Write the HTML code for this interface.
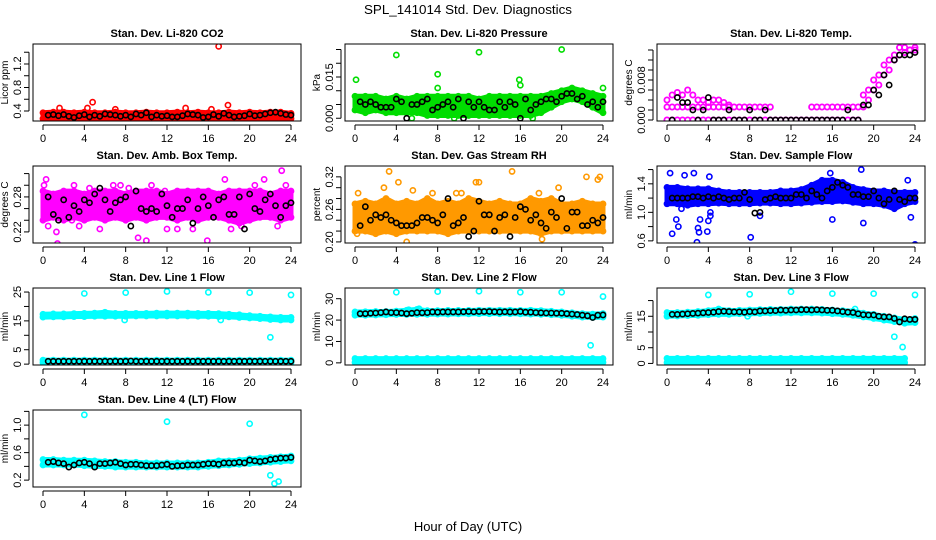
<!DOCTYPE html>
<html><head><meta charset="utf-8">
<style>
html,body{margin:0;padding:0;background:#fff;}
svg{display:block;font-family:"Liberation Sans",sans-serif;}
</style></head>
<body>
<svg id="chart" width="936" height="540" viewBox="0 0 936 540" xmlns="http://www.w3.org/2000/svg">
<rect width="936" height="540" fill="#fff"/>
<text x="468" y="14" text-anchor="middle" font-size="13" textLength="208" lengthAdjust="spacingAndGlyphs">SPL_141014  Std. Dev. Diagnostics</text>
<text x="468" y="531" text-anchor="middle" font-size="13">Hour of Day (UTC)</text>
<g id="panels"></g>
</svg>
<script>
const HR=[0,1,2,3,4,5,6,7,8,9,10,11,12,13,14,15,16,17,18,19,20,21,22,23,24];
const HH=[0,0.5,1,1.5,2,2.5,3,3.5,4,4.5,5,5.5,6,6.5,7,7.5,8,8.5,9,9.5,10,10.5,11,11.5,12,12.5,13,13.5,14,14.5,15,15.5,16,16.5,17,17.5,18,18.5,19,19.5,20,20.5,21,21.5,22,22.5,23,23.5,24];
const xTicks=[0,4,8,12,16,20,24];

// Panel 1 CO2
const co2Lo=[0.27,0.27,0.28,0.27,0.27,0.27,0.28,0.27,0.26,0.27,0.28,0.27,0.27,0.27,0.28,0.27,0.27,0.27,0.28,0.27,0.27,0.27,0.28,0.28,0.27];
const co2Hi=[0.37,0.38,0.38,0.37,0.38,0.37,0.37,0.38,0.37,0.37,0.38,0.37,0.37,0.38,0.37,0.38,0.37,0.37,0.38,0.37,0.38,0.37,0.38,0.38,0.36];
const co2Blk=[null,0.33,0.34,0.32,0.34,0.31,0.29,0.32,0.34,0.30,0.33,0.31,0.35,0.34,0.33,0.31,0.33,0.30,0.35,0.33,0.37,0.30,0.33,0.31,0.32,0.30,0.30,0.32,0.35,0.34,0.33,0.29,0.30,0.34,0.31,0.36,0.33,0.30,0.31,0.32,0.35,0.32,0.33,0.35,0.37,0.38,0.36,0.34,0.33];
const co2OutX=[17,4.8,17.9,1.6,4.3,7,13.8,16.3,8];
const co2OutY=[1.5,0.55,0.5,0.45,0.45,0.43,0.45,0.43,0.25];

// Panel 2 Pressure
const prLo=[0.003,0.002,0.003,0.002,0.002,0.002,0.002,0.001,0.001,0.001,0.001,0.001,0.001,0.001,0.001,0.001,0.001,0.001,0.002,0.004,0.006,0.007,0.006,0.004,0.002];
const prHi=[0.008,0.008,0.008,0.007,0.008,0.007,0.008,0.008,0.008,0.008,0.008,0.008,0.007,0.008,0.008,0.008,0.008,0.008,0.008,0.009,0.010,0.011,0.010,0.009,0.008];
const prBlk=[null,0.006,0.005,0.006,0.005,0.004,0.004,0.004,0.007,0.006,0.000,0.005,0.005,0.006,0.007,0.003,0.004,0.005,0.006,0.004,0.007,0.000,0.006,0.004,0.006,0.004,0.003,0.003,0.006,0.004,0.006,0.005,0.000,0.007,0.003,0.005,0.006,0.007,0.007,0.006,0.008,0.009,0.009,0.007,0.008,0.005,0.006,0.004,0.006];
const prOutX=[0.1,4,8,8,12,15.9,16,20,24,17.2,5.5,9.6];
const prOutY=[0.014,0.023,0.016,0.011,0.024,0.014,0.012,0.025,0.011,0.000,0.000,0.000];

// Panel 3 Temp (rows of points)
const tpRow0=[0,0,0,0,0,0,0,0,0,0,0,0,0,0,0,0,0,0,0,0,0,0,0,0,0,0,0,0,0,0,0,0,0,0,0,0,0,0,null,null,null,null,null,null,null,null,null,null,null];
const tpRow1=[0.0026,0.0026,0.0026,0.0026,0.0026,0.0026,0.0026,0.0026,0.0026,0.0026,0.0026,0.0026,0.0026,0.0026,0.0026,0.0026,0.0026,0.0026,0.0026,0.0026,0.0026,null,null,null,null,null,null,null,0.0026,0.0026,0.0026,0.0026,0.0026,0.0026,0.0026,0.0026,0.0026,0.0026,0.0026,0.004,0.006,0.007,0.009,0.010,0.012,0.013,0.0135,0.014,0.014];
const tpRow2=[0.004,0.005,0.0055,0.005,0.006,0.005,0.004,0.004,0.0035,0.004,0.004,0.0035,0.003,null,null,null,null,null,null,null,null,null,null,null,null,null,null,null,null,null,null,null,null,null,null,null,null,null,0.005,0.006,0.008,0.009,0.011,0.012,0.013,0.0145,0.0145,0.014,0.0145];
const tpBlk=[null,0,0.0045,0.0035,0.0035,0.002,0,0.002,0.0045,0,0,0,0.002,0,0,0,0.002,0,0,0.002,0,0,0,0,0,0,0,0,0,0,0,0,0,0,0,0.002,0,0,0.003,0.003,0.006,0.005,0.009,0.007,0.012,0.013,0.013,0.013,0.0135];

// Panel 4 Amb Box Temp
const abLo=[0.24,0.245,0.24,0.245,0.24,0.245,0.24,0.245,0.24,0.245,0.24,0.245,0.245,0.24,0.245,0.24,0.245,0.245,0.24,0.235,0.24,0.245,0.245,0.24,0.245];
const abHi=[0.29,0.285,0.29,0.29,0.285,0.29,0.29,0.29,0.285,0.29,0.29,0.29,0.285,0.29,0.29,0.29,0.29,0.285,0.29,0.29,0.29,0.29,0.285,0.29,0.29];
const abBlk=[null,0.28,0.25,0.24,0.275,0.245,0.265,0.255,0.275,0.27,0.285,0.295,0.275,0.255,0.27,0.275,0.28,0.23,0.29,0.26,0.255,0.26,0.255,0.285,0.265,0.245,0.26,0.26,0.275,0.235,0.26,0.28,0.265,0.245,0.275,0.28,0.25,0.25,0.28,0.225,0.285,0.26,0.255,0.275,0.285,0.265,0.245,0.265,0.27];
const abOutX=[0.1,0.3,0.5,1.3,1.4,3,4.5,5.5,7.5,9.2,10,10.5,13,14.5,15.9,17.6,18.2,21.4,23.1,23.5,22.7,0.2,2.8,6.8,12,11.8,19.2,20.5,8.3,3.5];
const abOutY=[0.30,0.31,0.23,0.22,0.20,0.30,0.295,0.225,0.30,0.21,0.205,0.30,0.225,0.225,0.205,0.31,0.225,0.31,0.325,0.30,0.23,0.245,0.24,0.30,0.225,0.29,0.23,0.30,0.295,0.23];

// Panel 5 Gas Stream RH
const rhLo=[0.22,0.22,0.215,0.22,0.215,0.22,0.22,0.22,0.22,0.215,0.22,0.22,0.22,0.22,0.22,0.22,0.22,0.22,0.215,0.22,0.22,0.22,0.22,0.22,0.22];
const rhHi=[0.27,0.275,0.27,0.28,0.27,0.275,0.27,0.28,0.27,0.275,0.27,0.28,0.275,0.27,0.275,0.27,0.27,0.28,0.275,0.28,0.27,0.27,0.275,0.27,0.27];
const rhBlk=[null,0.23,0.265,0.24,0.25,0.245,0.25,0.24,0.235,0.23,0.23,0.23,0.235,0.245,0.245,0.24,0.235,0.25,0.28,0.23,0.235,0.245,0.21,0.22,0.275,0.25,0.25,0.22,0.245,0.25,0.21,0.245,0.265,0.26,0.24,0.25,0.235,0.225,0.255,0.245,0.28,0.225,0.255,0.255,0.23,0.23,0.24,0.235,0.245];
const rhOutX=[0.3,3.3,4.2,5,15.2,22.4,23.5,23.7,2.8,7.5,11.7,12,17.8,19.7,0.2,18.1,9.8,10.3,5.6];
const rhOutY=[0.29,0.33,0.31,0.20,0.33,0.32,0.315,0.32,0.30,0.29,0.31,0.31,0.29,0.30,0.215,0.205,0.29,0.29,0.295];

// Panel 6 Sample Flow
const sfLo=[1.12,1.12,1.1,1.12,1.12,1.13,1.12,1.12,1.12,1.13,1.13,1.12,1.12,1.13,1.14,1.15,1.15,1.16,1.14,1.12,1.12,1.1,1.05,1.12,1.15];
const sfHi=[1.35,1.35,1.33,1.33,1.33,1.3,1.28,1.28,1.28,1.28,1.28,1.3,1.3,1.32,1.38,1.45,1.45,1.42,1.35,1.32,1.3,1.3,1.28,1.28,1.28];
const sfBlk=[null,1.2,1.2,1.2,1.2,1.22,1.22,1.2,1.22,1.2,1.22,1.2,1.18,1.2,1.2,1.28,1.18,0.99,1.0,1.18,1.2,1.22,1.2,1.2,1.2,1.25,1.25,1.2,1.3,1.25,1.2,1.3,1.35,1.42,1.38,1.35,1.25,1.25,1.22,1.22,1.3,1.2,1.12,1.18,1.3,1.18,1.15,1.2,1.2];
const sfOutX=[0.3,0.5,0.9,1.4,1.7,2.6,2.9,3,3.1,3.9,4,4.1,4.2,8.1,9,15.8,16,18.8,19,23.3,23.6,24,4.2,3.2,1.1];
const sfOutY=[1.55,0.7,0.9,1.05,1.52,1.55,0.58,0.78,0.72,0.73,0.88,1.5,1.0,0.65,0.95,1.55,0.9,1.6,0.85,1.45,0.93,0.55,0.95,0.9,0.8];

// Panel 7 Line 1 Flow
const l1Lo=[16.3,16.4,16.4,16.5,16.5,16.6,16.6,16.6,16.6,16.7,16.7,16.7,16.7,16.7,16.7,16.6,16.6,16.5,16.4,16.2,16,15.8,15.5,15.3,15.3];
const l1Hi=[17.3,17.4,17.4,17.5,17.6,17.7,18,17.6,17.6,17.6,17.6,17.7,17.7,17.7,17.7,17.6,17.6,17.5,17.3,17.1,16.8,16.6,16.4,16.2,16.2];
const l1BaseLo=[0.5,0.5,0.5,0.5,0.5,0.5,0.5,0.5,0.5,0.5,0.5,0.5,0.5,0.5,0.5,0.5,0.5,0.5,0.5,0.5,0.5,0.5,0.5,0.5,0.5];
const l1BaseHi=[1.4,1.4,1.4,1.4,1.4,1.4,1.4,1.4,1.4,1.4,1.4,1.4,1.4,1.4,1.4,1.4,1.4,1.4,1.4,1.4,1.4,1.4,1.4,1.4,1.4];
const l1Blk=[null,1,1,1,1,1,1,1,1,1,1,1,1,1,1,1,1,1.1,1,1,1,1,1,1,1,1,1,1,1,1,1,1,1,1,1,1,1,1,1,1,1,1,1,1,1,1,1,1,1];
const l1OutX=[4,8,12,16,20,24,22,7.9,17.2];
const l1OutY=[24.5,24.8,25.2,24.9,24.8,24,9.3,15.3,15.3];

// Panel 8 Line 2 Flow
const l2Lo=[22.3,22.3,22.4,22.5,22.6,22.6,22.7,22.7,22.8,22.8,22.9,22.9,23,23,23,23,22.9,22.8,22.7,22.5,22.2,21.8,21.4,21.2,21.4];
const l2Hi=[23.8,23.9,24,24,24.2,24.6,25,24.4,24.4,24.5,24.5,24.5,24.6,24.6,24.6,24.6,24.5,24.6,24.4,24.1,23.8,23.4,23,22.8,23];
const l2BaseLo=[0.2,0.2,0.2,0.2,0.2,0.2,0.2,0.2,0.2,0.2,0.2,0.2,0.2,0.2,0.2,0.2,0.2,0.2,0.2,0.2,0.2,0.2,0.2,0.2,0.2];
const l2BaseHi=[2,2,2,2,2,2,2,2,2,2,2,2,2,2,2,2,2,2,2,2,2,2,2,2,2];
const l2Blk=[null,23,23,23.2,23.3,23.5,23.8,23.5,23.5,23.3,23,23.2,23.5,23.4,23.5,23.8,23.7,23.8,23.8,23.8,23.8,23.9,24,23.9,24,24,24,23.9,23.8,23.9,23.8,23.8,24,23.7,23.7,23.5,23.4,23.3,23.3,23.2,23.2,23,22.8,22.6,22.3,22.0,21.2,22.3,22.4];
const l2OutX=[4,8,12,16,20,24,22.8,6.2,5.2];
const l2OutY=[33,33.3,33.5,33,33,31,8.2,25.3,24.8];

// Panel 9 Line 3 Flow
const l3Lo=[15,15.1,15.2,15.3,15.5,15.6,15.6,15.8,15.8,15.9,16,16,16.1,16.1,16.1,16,15.8,15.6,15.3,14.8,14.3,13.8,13.3,12.8,13];
const l3Hi=[16.2,16.2,16.3,16.5,16.8,17.3,16.8,16.9,17,17.1,17.2,17.2,17.3,17.3,17.3,17.2,17,16.8,16.6,16,15.6,15,14.5,14,14.3];
const l3BaseLo=[0.3,0.3,0.3,0.3,0.3,0.3,0.3,0.3,0.3,0.3,0.3,0.3,0.3,0.3,0.3,0.3,0.3,0.3,0.3,0.3,0.3,0.3,0.3,0.3,null];
const l3BaseHi=[1.6,1.6,1.6,1.6,1.6,1.6,1.6,1.6,1.6,1.6,1.6,1.6,1.6,1.6,1.6,1.6,1.6,1.6,1.6,1.6,1.6,1.6,1.6,1.6,null];
const l3Blk=[null,15.6,15.6,15.7,15.8,15.9,16,16.1,16.2,16.3,16.5,16.6,16.5,16.4,16.4,16.3,16.5,16.4,16.7,16.7,16.8,16.8,17,16.9,17,17,17.1,17.1,17,17.1,17,16.9,16.9,16.7,16.5,16.3,16.2,15.8,15.5,15.4,15.4,15,14.8,14.8,14.3,13.2,14.2,14,14];
const l3OutX=[4,8,12,16,20,24,22,22.8,18.2,7.8];
const l3OutY=[21.8,22,22.8,22.2,22.2,21.8,8.5,5.2,17.3,15];

// Panel 10 Line 4 Flow
const l4Lo=[0.42,0.42,0.42,0.42,0.41,0.40,0.40,0.39,0.39,0.39,0.39,0.39,0.39,0.39,0.39,0.39,0.40,0.41,0.42,0.43,0.44,0.45,0.46,0.47,0.48];
const l4Hi=[0.50,0.50,0.49,0.49,0.49,0.48,0.47,0.47,0.46,0.46,0.45,0.45,0.45,0.45,0.45,0.45,0.46,0.48,0.48,0.49,0.51,0.52,0.53,0.54,0.55];
const l4Blk=[null,0.46,0.47,0.45,0.44,0.39,0.42,0.45,0.46,0.44,0.39,0.44,0.44,0.45,0.46,0.44,0.42,0.43,0.43,0.42,0.41,0.41,0.41,0.42,0.43,0.40,0.41,0.41,0.42,0.42,0.42,0.43,0.44,0.44,0.43,0.45,0.45,0.45,0.46,0.45,0.49,0.48,0.47,0.48,0.50,0.51,0.52,0.52,0.53];
const l4OutX=[4,12,20,22,22.4,22.8];
const l4OutY=[1.15,1.05,1.02,0.27,0.15,0.18];

const NS='http://www.w3.org/2000/svg';
function mk(tag,attrs,parent){const e=document.createElementNS(NS,tag);for(const k in attrs)e.setAttribute(k,attrs[k]);parent.appendChild(e);return e;}

const panels=[
 {name:'co2',title:'Stan. Dev. Li-820 CO2',ylab:'Licor ppm',col:0,row:0,ymin:0.23,ymax:1.54,ticks:[0.4,0.6,0.8,1.0,1.2,1.4],labels:[0.4,0.8,1.2],fmt:1,color:'#ff0000',bands:[[co2Lo,co2Hi]],rows:[],blk:co2Blk,ox:co2OutX,oy:co2OutY},
 {name:'pressure',title:'Stan. Dev. Li-820 Pressure',ylab:'kPa',col:1,row:0,ymin:-0.001,ymax:0.027,ticks:[0,0.005,0.010,0.015,0.020,0.025],labels:[0,0.015],fmt:3,color:'#00dd00',bands:[[prLo,prHi]],rows:[],blk:prBlk,ox:prOutX,oy:prOutY},
 {name:'li820-temp',title:'Stan. Dev. Li-820 Temp.',ylab:'degrees C',col:2,row:0,ymin:-0.0002,ymax:0.0152,ticks:[0,0.002,0.004,0.006,0.008,0.010,0.012,0.014],labels:[0,0.008],fmt:3,color:'#ff00ff',bands:[],rows:[tpRow0,tpRow1,tpRow2],blk:tpBlk,ox:[],oy:[]},
 {name:'amb-box-temp',title:'Stan. Dev. Amb. Box Temp.',ylab:'degrees C',col:0,row:1,ymin:0.201,ymax:0.333,ticks:[0.22,0.24,0.26,0.28,0.30,0.32],labels:[0.22,0.28],fmt:2,color:'#ff00ff',bands:[[abLo,abHi]],rows:[],blk:abBlk,ox:abOutX,oy:abOutY},
 {name:'gas-stream-rh',title:'Stan. Dev. Gas Stream RH',ylab:'percent',col:1,row:1,ymin:0.198,ymax:0.340,ticks:[0.20,0.22,0.24,0.26,0.28,0.30,0.32],labels:[0.20,0.26,0.32],fmt:2,color:'#ff9900',bands:[[rhLo,rhHi]],rows:[],blk:rhBlk,ox:rhOutX,oy:rhOutY},
 {name:'sample-flow',title:'Stan. Dev. Sample Flow',ylab:'ml/min',col:2,row:1,ymin:0.57,ymax:1.65,ticks:[0.6,0.8,1.0,1.2,1.4,1.6],labels:[0.6,1.0,1.4],fmt:1,color:'#0000ff',bands:[[sfLo,sfHi]],rows:[],blk:sfBlk,ox:sfOutX,oy:sfOutY},
 {name:'line1-flow',title:'Stan. Dev. Line 1 Flow',ylab:'ml/min',col:0,row:2,ymin:-0.3,ymax:26.4,ticks:[0,5,10,15,20,25],labels:[0,5,15,25],fmt:0,color:'#00ffff',bands:[[l1Lo,l1Hi],[l1BaseLo,l1BaseHi]],rows:[],blk:l1Blk,ox:l1OutX,oy:l1OutY},
 {name:'line2-flow',title:'Stan. Dev. Line 2 Flow',ylab:'ml/min',col:1,row:2,ymin:-1,ymax:35,ticks:[0,10,20,30],labels:[0,10,20,30],fmt:0,color:'#00ffff',bands:[[l2Lo,l2Hi],[l2BaseLo,l2BaseHi]],rows:[],blk:l2Blk,ox:l2OutX,oy:l2OutY},
 {name:'line3-flow',title:'Stan. Dev. Line 3 Flow',ylab:'ml/min',col:2,row:2,ymin:-0.5,ymax:24,ticks:[0,5,10,15,20],labels:[0,5,15],fmt:0,color:'#00ffff',bands:[[l3Lo,l3Hi],[l3BaseLo,l3BaseHi]],rows:[],blk:l3Blk,ox:l3OutX,oy:l3OutY},
 {name:'line4-flow',title:'Stan. Dev. Line 4 (LT) Flow',ylab:'ml/min',col:0,row:3,ymin:0.10,ymax:1.22,ticks:[0.2,0.4,0.6,0.8,1.0,1.2],labels:[0.2,0.6,1.0],fmt:1,color:'#00ffff',bands:[[l4Lo,l4Hi]],rows:[],blk:l4Blk,ox:l4OutX,oy:l4OutY}
];

const root=document.getElementById('panels');
panels.forEach(p=>{
 const x0=43+312*p.col, top=44+122*p.row, bot=121+122*p.row;
 const bl=x0-10, br=x0+258;
 const xs=v=>x0+v/24*248;
 const ys=v=>bot-(v-p.ymin)/(p.ymax-p.ymin)*(bot-top);
 const g=mk('g',{},root);
 
 
 const t=mk('text',{x:(bl+br)/2,y:top-7,'text-anchor':'middle','font-size':'11','font-weight':'bold'},g);
 t.textContent=p.title;
 
 
 const yl=mk('text',{transform:`translate(${bl-25},${(top+bot)/2}) rotate(-90)`,'text-anchor':'middle','font-size':'10'},g);
 yl.textContent=p.ylab;
 
 
 const clip='clip-'+p.name;
 const cp=mk('clipPath',{id:clip},g);
 mk('rect',{x:bl,y:top,width:br-bl,height:bot-top},cp);
 const data=mk('g',{'clip-path':`url(#${clip})`},g);
 
 
 p.bands.forEach(b=>{
  const lo=b[0],hi=b[1];let pts=[],back=[];
  HR.forEach((h,i)=>{if(lo[i]!=null&&hi[i]!=null){pts.push(xs(h)+','+ys(hi[i]));back.unshift(xs(h)+','+ys(lo[i]));}});
  const poly=mk('polygon',{points:pts.concat(back).join(' '),fill:p.color,stroke:p.color,'stroke-width':'5','stroke-linejoin':'round'},data);
  
  
  HR.forEach((h,i)=>{[lo[i],hi[i]].forEach(v=>{if(v==null)return;
   const c=mk('circle',{cx:xs(h),cy:ys(v),r:2.6,fill:'none',stroke:p.color,'stroke-width':1.6},data);
   
   });});
 });
 p.rows.forEach(r=>{HH.forEach((h,i)=>{if(r[i]==null)return;
   const c=mk('circle',{cx:xs(h),cy:ys(r[i]),r:2.6,fill:'none',stroke:p.color,'stroke-width':1.8},data);
   
   });});
 p.ox.forEach((x,i)=>{
   const c=mk('circle',{cx:xs(x),cy:ys(p.oy[i]),r:2.6,fill:'none',stroke:p.color,'stroke-width':1.6},data);
   
   });
 HH.forEach((h,i)=>{if(p.blk[i]==null)return;
   const c=mk('circle',{cx:xs(h),cy:ys(p.blk[i]),r:2.6,fill:'none',stroke:'#000','stroke-width':1.6},data);
   
   });
 const box=mk('rect',{x:bl,y:top,width:br-bl,height:bot-top,fill:'none',stroke:'#000','stroke-width':1},g);
 
 
 const xa=mk('g',{},g);
 
 
 mk('line',{x1:xs(0),x2:xs(24),y1:bot+4,y2:bot+4,stroke:'#000'},xa);
 xTicks.forEach(v=>{mk('line',{x1:xs(v),x2:xs(v),y1:bot+4,y2:bot+9,stroke:'#000'},xa);
  const tl=mk('text',{x:xs(v),y:bot+21,'text-anchor':'middle','font-size':'11'},xa);tl.textContent=v;
  
  });
 const ya=mk('g',{},g);
 
 
 const t0=p.ticks[0],t1=p.ticks[p.ticks.length-1];
 mk('line',{x1:bl-4,x2:bl-4,y1:ys(t0),y2:ys(t1),stroke:'#000'},ya);
 p.ticks.forEach(v=>{mk('line',{x1:bl-9,x2:bl-4,y1:ys(v),y2:ys(v),stroke:'#000'},ya);});
 p.labels.forEach(v=>{const tl=mk('text',{transform:`translate(${bl-12},${ys(v)}) rotate(-90)`,'text-anchor':'middle','font-size':'11'},ya);
  tl.textContent=v.toFixed(p.fmt);
  
  });
});
</script>
</body></html>
